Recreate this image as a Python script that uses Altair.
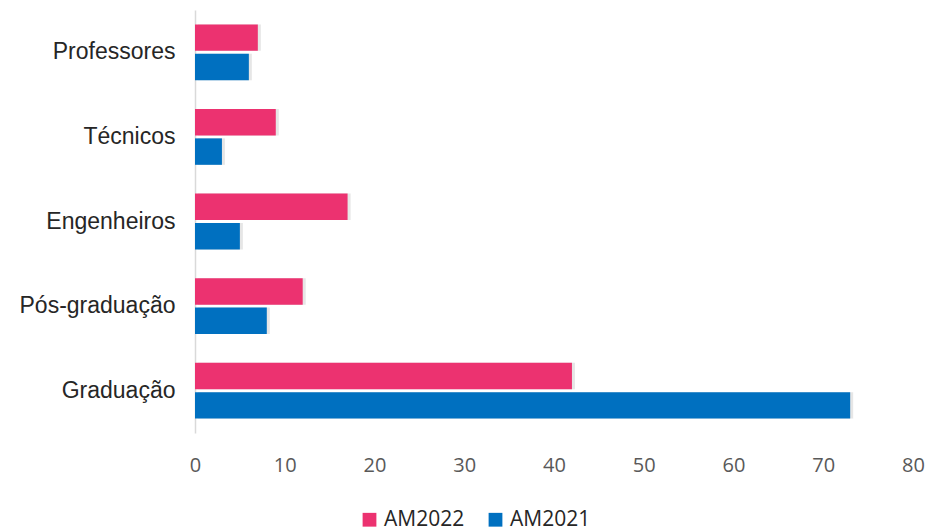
import altair as alt
import pandas as pd

# Participants by category, two editions
categories = ["Professores", "Técnicos", "Engenheiros", "Pós-graduação", "Graduação"]
am2022 = [7, 9, 17, 12, 42]
am2021 = [6, 3, 5, 8, 73]
series = ["AM2022", "AM2021"]
colors = ["#EC3270", "#0070C0"]
x_ticks = [0, 10, 20, 30, 40, 50, 60, 70, 80]

rows = []
for cat, v22, v21 in zip(categories, am2022, am2021):
    rows.append({"categoria": cat, "edicao": "AM2022", "valor": v22})
    rows.append({"categoria": cat, "edicao": "AM2021", "valor": v21})
df = pd.DataFrame(rows)

y_enc = alt.Y(
    "categoria:N",
    sort=categories,
    scale=alt.Scale(paddingInner=0.34, paddingOuter=0.17),
    axis=alt.Axis(
        title=None,
        labelFont="Liberation Sans",
        labelFontSize=23,
        labelColor="#262626",
        labelPadding=20,
        ticks=False,
        domainColor="#d9d9d9",
        domainWidth=1.5,
    ),
)
x_enc = alt.X(
    "valor:Q",
    scale=alt.Scale(domain=[0, 80], nice=False),
    axis=alt.Axis(
        title=None,
        values=x_ticks,
        grid=False,
        domain=False,
        ticks=False,
        labelFlush=False,
        labelFont="Open Sans",
        labelFontSize=20,
        labelColor="#595959",
        labelPadding=22,
    ),
)
yoff_enc = alt.YOffset(
    "edicao:N", sort=series, scale=alt.Scale(paddingInner=0.1)
)

# soft drop shadow behind the bars
shadow = alt.Chart(df).mark_bar(
    color="#8c8c8c", opacity=0.22, xOffset=3, yOffset=3
).encode(x=x_enc, y=y_enc, yOffset=yoff_enc)

bars = alt.Chart(df).mark_bar().encode(
    x=x_enc,
    y=y_enc,
    yOffset=yoff_enc,
    color=alt.Color(
        "edicao:N",
        sort=series,
        scale=alt.Scale(domain=series, range=colors),
        legend=alt.Legend(
            title=None,
            orient="none",
            direction="horizontal",
            legendX=164,
            legendY=499,
            symbolType="square",
            symbolSize=190,
            symbolStrokeWidth=0,
            labelFont="Open Sans",
            labelFontSize=21,
            labelColor="#262626",
            columnPadding=20,
            labelOffset=4,
            padding=0,
        ),
    ),
)

chart = (
    alt.layer(shadow, bars)
    .properties(
        width=718,
        height=423,
        autosize=alt.AutoSizeParams(type="none"),
        padding={"left": 195, "top": 10, "right": 15, "bottom": 98},
        background="white",
    )
    .configure_view(stroke=None)
)

chart.save("out.html", embed_options={"renderer": "svg", "actions": False})
